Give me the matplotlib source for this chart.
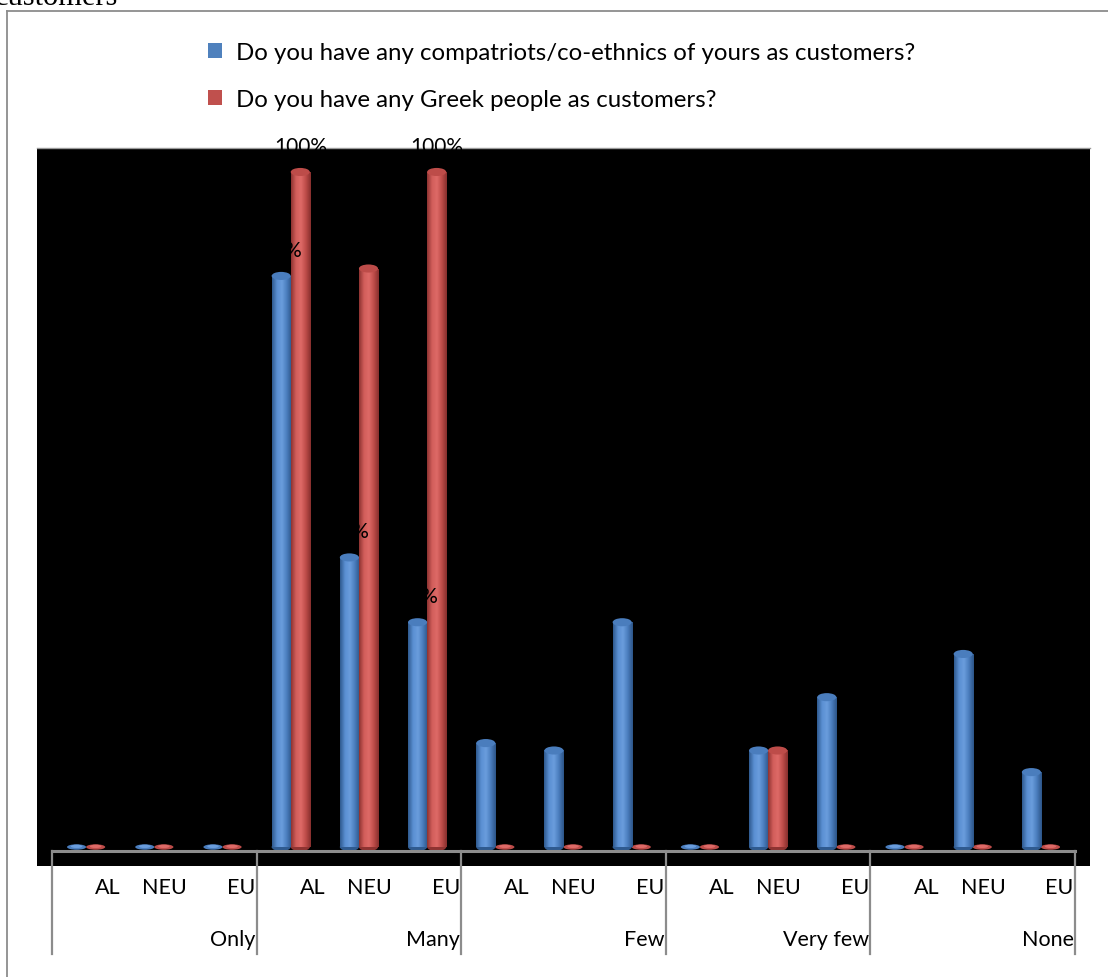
import numpy as np
import matplotlib
matplotlib.use("Agg")
import matplotlib.pyplot as plt
from matplotlib.colors import LinearSegmentedColormap
from matplotlib.lines import Line2D
from matplotlib.patches import Ellipse, Patch

plt.rcParams["font.family"] = ["Lato", "DejaVu Sans"]

groups = ["Only", "Many", "Few", "Very few", "None"]
origins = ["AL", "NEU", "EU"]
series_names = [
    "Do you have any compatriots/co-ethnics of yours as customers?",
    "Do you have any Greek people as customers?",
]
# percentages per (group, origin), in the order Only-AL, Only-NEU, ..., None-EU
compatriots = [0, 0, 0,
               84.6, 42.9, 33.3,
               15.4, 14.3, 33.3,
               0, 14.3, 22.2,
               0, 28.6, 11.1]
greeks = [0, 0, 0,
          100, 85.7, 100,
          0, 0, 0,
          0, 14.3, 0,
          0, 0, 0]

BLUE = "#4F81BD"
RED = "#C0504D"
shades = {
    BLUE: ["#2f5a8f", "#5a8fd2", "#6a9ddd", "#4a7dbd", "#2c5588"],
    RED: ["#8e3331", "#d25e5b", "#de6a67", "#bd4c49", "#872f2d"],
}

fig = plt.figure(figsize=(11.08, 9.78), dpi=100)
ax = fig.add_axes([0.0334, 0.1135, 0.9504, 0.7342])
ax.set_facecolor("black")

x = np.arange(len(compatriots))
width = 0.28
cap_h = 1.2


def cylinders(xpos, values, color):
    cmap = LinearSegmentedColormap.from_list("cyl", shades[color])
    grad = np.linspace(0, 1, 64)[np.newaxis, :]
    bars = ax.bar(xpos, values, width, color=color, zorder=2)
    for bar, v in zip(bars, values):
        cx = bar.get_x() + bar.get_width() / 2
        if v <= 0:
            ax.add_patch(Ellipse((cx, 0), width, 0.8, facecolor=shades[color][3],
                                 edgecolor="none", zorder=2))
            ax.add_patch(Ellipse((cx, 0.1), width * 0.6, 0.5, facecolor=shades[color][2],
                                 edgecolor="none", zorder=2.1))
            continue
        ax.add_patch(Ellipse((cx, 0), width, cap_h, facecolor=shades[color][0],
                             edgecolor="none", zorder=1.9))
        im = ax.imshow(grad, extent=(bar.get_x(), bar.get_x() + width, 0, v),
                       cmap=cmap, aspect="auto", zorder=2.05, interpolation="bilinear")
        im.set_clip_path(bar)
        ax.add_patch(Ellipse((cx, v), width, cap_h, facecolor=shades[color][3],
                             edgecolor="none", zorder=2.2))
        ax.text(cx, v + 3.0, f"{v:.0f}%", ha="center", va="baseline",
                fontsize=15, color="black", zorder=5)
    return bars


cylinders(x - 0.14, compatriots, BLUE)
cylinders(x + 0.14, greeks, RED)

ax.set_xlim(-0.72, 14.72)
ax.set_ylim(-2.81, 103.56)
ax.set_xticks([])
ax.set_yticks([])
for side in ["left", "right", "bottom"]:
    ax.spines[side].set_visible(False)
ax.spines["top"].set_color("#9a9a9a")
ax.spines["top"].set_linewidth(1.0)

# category axis: baseline, group separators and two rows of labels
axis_y = -0.6
sep_bottom = -15.85
ax.plot([-0.5, 14.5], [axis_y, axis_y], color="#8c8c8c", lw=2.2, clip_on=False, zorder=3)
for s in np.arange(-0.5, 15, 3):
    ax.plot([s, s], [axis_y, sep_bottom], color="#8c8c8c", lw=1.6, clip_on=False, zorder=3)

label_size = 15.5
for gi, name in enumerate(groups):
    left = -0.5 + 3 * gi
    ax.text(left + 0.82, -5.9, origins[0], ha="center", va="center", fontsize=label_size, clip_on=False)
    ax.text(left + 1.65, -5.9, origins[1], ha="center", va="center", fontsize=label_size, clip_on=False)
    ax.text(left + 2.98, -5.9, origins[2], ha="right", va="center", fontsize=label_size, clip_on=False)
    ax.text(left + 2.98, -13.6, name, ha="right", va="center", fontsize=label_size, clip_on=False)

handles = [Patch(facecolor=BLUE), Patch(facecolor=RED)]
fig.legend(handles, series_names, loc="upper left", bbox_to_anchor=(0.1877, 1 - 43 / 978),
           frameon=False, fontsize=17.3, handlelength=0.58, handleheight=0.58,
           handletextpad=0.6, labelspacing=1.07, borderpad=0, borderaxespad=0)

# outer chart frame and the caption line running off the top
fig.add_artist(Line2D([7 / 1108, 7 / 1108], [0, 1 - 12 / 978], color="#8c8c8c", lw=1.3))
fig.add_artist(Line2D([7 / 1108, 1], [1 - 12 / 978, 1 - 12 / 978], color="#8c8c8c", lw=1.3))
fig.text(-5 / 1108, 1 - 5 / 978, "customers", family="Liberation Serif", fontsize=22,
         ha="left", va="baseline")

fig.savefig("out.png", dpi=100)
